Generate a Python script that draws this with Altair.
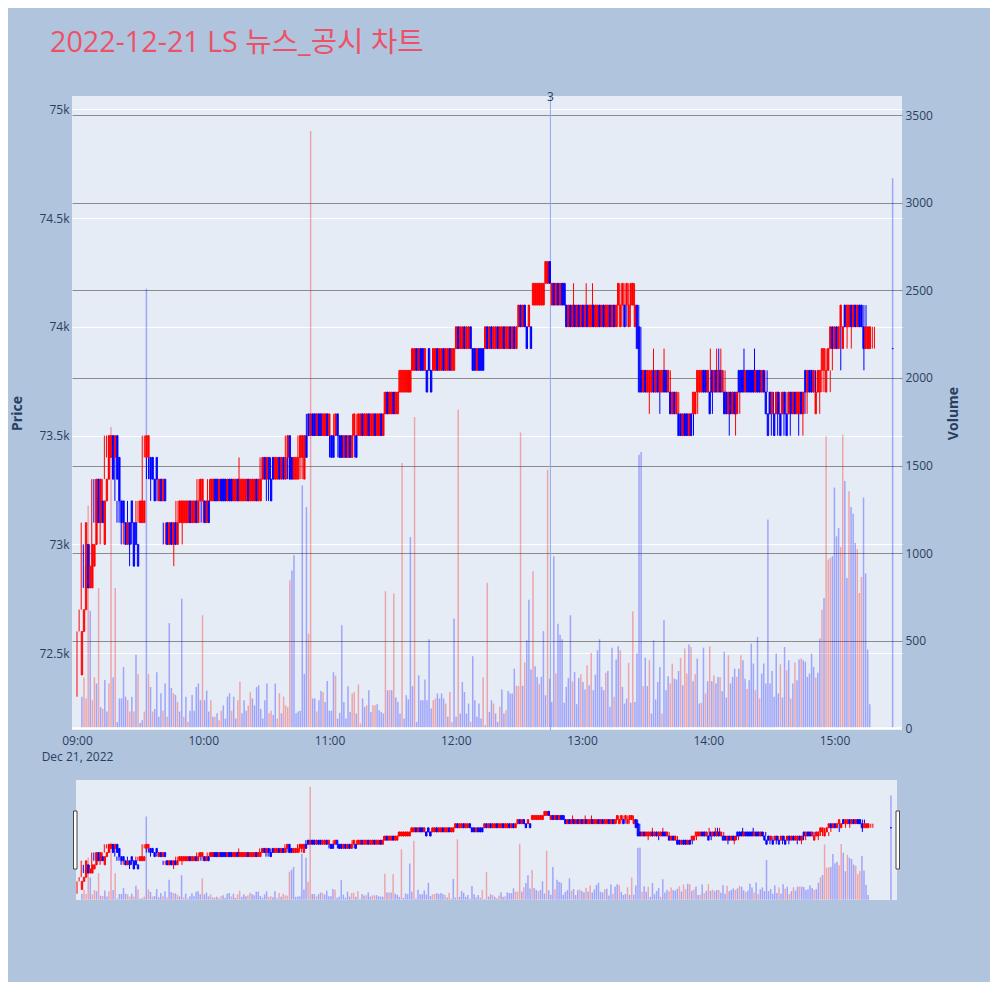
import altair as alt
import pandas as pd

# ---------------- text ----------------
TITLE = "2022-12-21 LS 뉴스_공시 차트"
DATE_LABEL = "Dec 21, 2022"
X_TICKS = [0, 60, 120, 180, 240, 300, 360]          # minutes after 09:00
X_LABELS = ["09:00", "10:00", "11:00", "12:00", "13:00", "14:00", "15:00"]
PRICE_TICKS = [72500, 73000, 73500, 74000, 74500, 75000]
VOLUME_TICKS = [0, 500, 1000, 1500, 2000, 2500, 3000, 3500]

# ---------------- 1-minute candles (steps of 100 won above 72,000) ----------------
BASE_PRICE = 72000
PRICE_STEP = 100

OPEN_09 = [4,6,7,10,8,8,9,10,13,11, 12,10,12,13,14,15,14,15,14,12, 12,11,10,11,12,11,11,10,11,11,
           11,14,14,14,14,13,14,12,13,12, 13,11,10,11,10,11,10,11,11,11, 11,11,12,11,11,12,11,12,12,12]
CLOSE_09 = [6,7,11,8,9,10,10,13,11,13, 11,12,13,15,15,13,15,13,12,11, 11,10,11,10,11,9,10,9,12,12,
            12,15,15,13,13,12,13,13,12,13, 12,10,11,10,11,10,11,12,12,12, 12,12,11,12,12,11,12,13,13,11]

OPEN_10 = [11,12,12,12,13,13,12,13,13,13, 12,13,13,12,12,13,12,12,12,12, 13,12,12,12,13,12,12,13,14,13,
           14,13,14,13,13,14,13,14,13,14, 15,14,13,13,13,14,14,13,15,16, 15,16,16,15,16,16,15,15,16,15]
CLOSE_10 = [12,11,13,13,12,12,13,12,12,12, 13,12,12,13,13,12,13,13,13,13, 12,13,13,13,12,13,13,14,13,14,
            13,12,13,14,14,13,14,13,14,15, 13,13,14,14,14,15,15,15,14,15, 16,15,15,16,15,15,16,16,15,16]

OPEN_11 = [15,15,15,16,15,15,14,15,14,15, 14,15,15,15,15,16,15,15,16,15, 15,16,15,15,16,15,16,17,16,16,
           17,16,16,17,17,17,17,17,17,18, 18,19,18,19,19,18,18,19,18,18, 18,19,18,18,19,18,18,19,18,18]
CLOSE_11 = [14,14,16,15,14,14,15,14,15,14, 15,16,14,16,16,15,16,16,15,16, 16,15,16,16,15,16,17,16,17,17,
            16,17,17,18,18,18,18,18,18,19, 19,18,19,18,18,19,17,18,17,19, 19,18,19,19,18,19,19,18,19,19]

OPEN_12 = [19,20,19,19,20,19,19,20,19,19, 18,19,19,19,19,20,19,20,19,19, 20,19,19,20,19,19,20,19,20,19,
           20,21,20,21,20,20,20,21,21,21, 21,21,21,22,22,23,21,22,21,22, 21,22,22,21,20,21,20,21,20,21]
CLOSE_12 = [20,19,20,20,19,20,20,19,18,18, 19,18,18,18,20,19,20,19,20,20, 19,20,20,19,20,20,19,20,19,20,
            21,20,21,20,19,21,19,22,22,22, 22,22,22,23,23,22,22,21,22,21, 22,21,21,20,21,20,21,20,21,20]

OPEN_13 = [20,21,20,21,20,20,21,20,20,21, 20,21,20,20,21,20,21,20,21,20, 21,21,21,20,21,21,20,21,20,18,
           17,18,17,17,17,18,17,18,17,17, 18,18,17,17,16,17,16,16,16,15, 16,16,15,16,16,16,17,17,17,18]
CLOSE_13 = [21,20,21,20,21,21,20,21,21,20, 21,20,21,21,20,21,20,21,22,21, 22,20,22,21,22,22,21,19,17,17,
            18,17,18,18,18,17,18,17,18,18, 17,17,18,16,17,16,17,15,15,16, 15,15,16,15,17,17,18,18,18,17]

OPEN_14 = [18,17,17,18,17,18,17,18,17,17, 17,16,17,16,17,16,18,18,18,17, 18,18,18,18,17,18,18,17,18,17,
           16,17,16,16,16,17,16,16,17,16, 16,17,16,17,16,16,17,16,18,17, 18,18,17,16,17,17,18,18,17,18]
CLOSE_14 = [17,18,16,17,18,17,18,17,18,16, 16,17,16,17,16,17,17,17,17,18, 17,17,17,17,18,17,17,18,17,16,
            15,16,17,15,17,16,15,17,16,15, 17,16,17,16,17,17,16,17,17,18, 17,17,18,17,18,18,19,19,18,19]

OPEN_15 = [19,20,19,20,19,20,19,21,20,20, 21,20,21,20,21,21,20,19,19,19]
CLOSE_15 = [20,19,20,19,20,21,20,20,21,21, 20,21,20,21,20,20,19,20,20,20]

# wicks beyond the body (minute index -> step)
HIGH_WICK = {77: 14, 236: 22, 242: 22, 245: 22, 257: 22, 274: 19, 279: 19, 301: 19,
             304: 19, 305: 19, 306: 19, 317: 19, 322: 19}
LOW_WICK = {0: 3, 31: 11, 46: 9, 50: 10, 90: 12, 92: 12, 106: 13, 272: 16, 277: 16,
            282: 16, 310: 15, 313: 15, 343: 15, 345: 15, 363: 18, 368: 19, 374: 18}

# ---------------- 1-minute volume (1 = red bar, 0 = blue bar) ----------------
VOL_09 = [180,290,170,1270,670,160,290,255,800,120, 110,275,95,255,1720,290,800,35,170,170,
          350,180,160,95,180,95,420,310,30,45, 95,2510,310,235,95,110,320,65,200,100,
          255,65,600,230,200,190,150,95,740,65, 180,35,100,190,100,235,255,160,645,160]
VC_09 = [0,1,1,1,0,1,1,0,1,0, 1,0,0,1,1,0,1,0,0,0, 0,0,1,1,0,1,0,1,0,0,
         1,0,1,0,1,0,0,0,0,1, 0,1,0,0,1,0,1,0,0,1, 0,1,0,0,0,0,0,0,1,0]
VOL_10 = [215,95,160,65,65,85,45,100,130,55, 180,200,100,180,55,160,265,85,160,100,
          130,205,170,130,235,245,110,55,160,255, 85,100,75,255,55,200,85,180,130,120,
          845,900,987,85,95,100,1387,310,1263,540, 3410,170,170,95,160,213,207,150,270,100]
VC_10 = [0,0,1,0,1,0,1,1,0,0, 0,0,1,0,0,1,1,0,0,0, 1,1,0,0,0,0,0,0,0,0,
         1,1,0,0,1,1,0,1,1,1, 1,0,0,0,0,0,0,0,0,1, 1,0,0,1,0,0,1,0,0,0]
VOL_11 = [100,320,300,55,88,588,150,55,240,93, 198,207,84,250,27,170,122,131,217,93,
          131,131,137,103,93,84,782,217,217,217, 769,175,150,84,1514,55,188,165,1092,240,
          1777,36,302,160,160,278,160,508,112,160, 170,198,170,198,170,141,65,207,36,626]
VC_11 = [0,0,1,0,0,0,0,0,0,0, 1,1,0,1,1,0,0,1,0,0, 1,1,0,0,0,0,1,0,1,0,
         1,0,0,0,1,0,0,0,0,0, 1,0,0,0,0,0,0,0,0,1, 1,0,0,0,0,1,0,1,1,0]
VOL_12 = [65,1819,84,264,207,84,141,36,411,160, 65,141,55,289,17,830,93,160,141,84,
          36,122,221,84,103,213,198,198,340,242, 242,1688,242,375,502,734,335,896,354,293,
          251,293,554,188,1476,283,150,982,312,597, 534,508,145,236,287,645,268,321,137,287]
VC_12 = [0,1,0,0,0,0,0,1,0,0, 0,0,0,1,0,1,0,0,1,0, 0,1,0,0,1,0,0,0,0,1,
         1,1,0,1,0,0,0,1,0,0, 1,0,0,0,1,0,0,0,1,0, 0,0,0,0,0,0,1,0,0,0]
VOL_13 = [308,264,221,360,245,430,217,306,445,508, 236,217,316,327,122,460,179,392,468,445,
          236,141,170,373,145,668,150,426,1562,1577, 240,403,240,388,84,502,164,264,350,84,
          616,217,297,255,369,283,278,327,401,245, 455,312,478,464,268,308,398,141,145,460]
VC_13 = [1,0,0,1,0,1,0,0,0,0, 0,0,1,0,0,0,1,0,0,1, 0,0,0,1,0,1,0,0,0,0,
         1,0,0,1,0,0,0,0,0,1, 0,0,0,1,1,0,0,0,1,0, 1,1,0,1,0,1,0,0,1,0]
VOL_14 = [198,268,468,268,302,255,293,293,211,436, 175,417,255,293,340,293,340,417,388,283,
          224,274,483,369,217,521,170,312,369,255, 1191,255,327,179,426,198,365,175,464,331,
          388,170,255,375,274,392,398,388,379,293, 312,426,350,289,316,512,677,744,1667,963]
VC_14 = [1,0,1,0,1,0,0,1,0,0, 0,1,0,0,0,1,0,1,0,0, 1,0,0,0,1,0,1,0,0,0,
         0,0,0,0,0,0,1,0,0,1, 0,1,0,1,0,0,1,0,0,0, 0,0,0,1,0,0,1,0,1,1]
VOL_15 = [972,982,1374,1096,1143,1035,1676,1412,858,1353, 1263,1225,1058,1022,772,864,1317,883,449,137]
VC_15 = [1,0,0,0,0,1,1,0,0,1, 0,0,0,1,1,1,0,0,0,0]

# closing single-price auction (15:30)
AUCTION_MINUTE = 390
AUCTION_PRICE = 73900
AUCTION_VOLUME = 3140

# news / disclosure marker
NEWS_MINUTE = [225]
NEWS_LABEL = ["3"]

# ---------------- tables ----------------
opens = OPEN_09 + OPEN_10 + OPEN_11 + OPEN_12 + OPEN_13 + OPEN_14 + OPEN_15
closes = CLOSE_09 + CLOSE_10 + CLOSE_11 + CLOSE_12 + CLOSE_13 + CLOSE_14 + CLOSE_15
vols = VOL_09 + VOL_10 + VOL_11 + VOL_12 + VOL_13 + VOL_14 + VOL_15
vcols = VC_09 + VC_10 + VC_11 + VC_12 + VC_13 + VC_14 + VC_15
assert len(opens) == len(closes) == len(vols) == len(vcols)

rows = []
for m, (o, c) in enumerate(zip(opens, closes)):
    hi = max(o, c, HIGH_WICK.get(m, o))
    lo = min(o, c, LOW_WICK.get(m, o))
    rows.append({
        "minute": m,
        "open": BASE_PRICE + PRICE_STEP * o,
        "close": BASE_PRICE + PRICE_STEP * c,
        "high": BASE_PRICE + PRICE_STEP * hi,
        "low": BASE_PRICE + PRICE_STEP * lo,
        "dir": "up" if c > o else "down",
    })
rows.append({"minute": AUCTION_MINUTE, "open": AUCTION_PRICE, "close": AUCTION_PRICE,
             "high": AUCTION_PRICE, "low": AUCTION_PRICE, "dir": "down"})
candles = pd.DataFrame(rows)

volume = pd.DataFrame({
    "minute": list(range(len(vols))) + [AUCTION_MINUTE],
    "volume": vols + [AUCTION_VOLUME],
    "dir": ["up" if v else "down" for v in vcols] + ["down"],
})
news = pd.DataFrame({"minute": NEWS_MINUTE, "label": NEWS_LABEL})
zero = pd.DataFrame({"v": [0]})
one = pd.DataFrame({"k": [0]})

# ---------------- geometry ----------------
W = 830          # plot width
MAIN_H = 634     # main panel height
GAP_END = 684    # slider top
TOTAL_H = 804    # slider bottom
PLOT_BG = "#E5ECF6"
PAGE_BG = "#B0C4DE"
TXT = "#2a3f5f"
FONT = "Open Sans"

X_MAIN = alt.Scale(domain=[-2.38, 392.1], range=[0, W], nice=False, zero=False)
X_SLIDER = alt.Scale(domain=[-0.48, 390.5], range=[4, W - 5], nice=False, zero=False)
P_MAIN = alt.Scale(domain=[72147, 75061], range=[MAIN_H, 0], nice=False, zero=False)
V_MAIN = alt.Scale(domain=[-10.3, 3610], range=[MAIN_H, 0], nice=False, zero=False)
P_SLIDER = alt.Scale(domain=[72147, 75061], range=[TOTAL_H, GAP_END], nice=False, zero=False)
V_SLIDER = alt.Scale(domain=[-10.3, 3610], range=[TOTAL_H, GAP_END], nice=False, zero=False)
COLOR = alt.Scale(domain=["up", "down"], range=["#FF0000", "#0000FF"])

parts = []
for v, lab in zip(X_TICKS, X_LABELS):
    if v == X_TICKS[0]:
        parts.append(f"datum.value == {v} ? ['{lab}', '{DATE_LABEL}']")
    else:
        parts.append(f"datum.value == {v} ? '{lab}'")
label_expr = " : ".join(parts) + " : ''"

x_axis = alt.Axis(values=X_TICKS, labelExpr=label_expr, grid=False, domain=False, ticks=False,
                  offset=-(TOTAL_H - MAIN_H), labelPadding=5, labelLineHeight=16, labelFlush=False,
                  zindex=1, title=None, labelColor=TXT, labelFontSize=12, labelFont=FONT)
price_axis = alt.Axis(orient="left", values=PRICE_TICKS, format="~s", grid=True, gridColor="white",
                      gridWidth=1, domain=False, ticks=False, labelPadding=3, labelColor=TXT,
                      labelFontSize=12, labelFont=FONT, title="Price", titleX=-55, titleY=MAIN_H / 2,
                      titleAngle=270, titleAlign="center", titleBaseline="middle",
                      titleFontWeight="bold", titleFontSize=14, titleColor=TXT, titleFont=FONT)
vol_axis = alt.Axis(orient="right", values=VOLUME_TICKS, format="d", grid=True, gridColor="#8c8c8c",
                    gridWidth=1, domain=False, ticks=False, labelPadding=3, labelColor=TXT,
                    labelFontSize=12, labelFont=FONT, title="Volume", titleX=51, titleY=MAIN_H / 2,
                    titleAngle=270, titleAlign="center", titleBaseline="middle",
                    titleFontWeight="bold", titleFontSize=14, titleColor=TXT, titleFont=FONT)

# ---------------- main panel ----------------
vol_main = alt.Chart(volume).mark_bar(width=1.5, opacity=0.3).encode(
    x=alt.X("minute:Q", scale=X_MAIN, axis=None),
    y=alt.Y("volume:Q", scale=V_MAIN, axis=vol_axis),
    y2=alt.datum(0),
    color=alt.Color("dir:N", scale=COLOR, legend=None),
)
zero_line = alt.Chart(zero).mark_rule(color="white", strokeWidth=2).encode(
    y=alt.Y("v:Q", scale=V_MAIN, axis=None), x=alt.value(0), x2=alt.value(W)
)
news_rule = alt.Chart(news).mark_rule(color="#8fa8f5", strokeWidth=1).encode(
    x=alt.X("minute:Q", scale=X_MAIN, axis=None), y=alt.value(0), y2=alt.value(MAIN_H)
)
news_text = alt.Chart(news).mark_text(fontSize=12, color=TXT, baseline="middle", font=FONT).encode(
    x=alt.X("minute:Q", scale=X_MAIN, axis=None), y=alt.value(1), text="label:N"
)
wick_main = alt.Chart(candles).mark_rule(strokeWidth=1).encode(
    x=alt.X("minute:Q", scale=X_MAIN, axis=x_axis),
    y=alt.Y("low:Q", scale=P_MAIN, axis=price_axis),
    y2="high:Q",
    color=alt.Color("dir:N", scale=COLOR, legend=None),
)
body_main = alt.Chart(candles).mark_bar(width=1.4, strokeWidth=0.9).encode(
    x=alt.X("minute:Q", scale=X_MAIN, axis=None),
    y=alt.Y("open:Q", scale=P_MAIN, axis=None),
    y2="close:Q",
    color=alt.Color("dir:N", scale=COLOR, legend=None),
    stroke=alt.Stroke("dir:N", scale=COLOR, legend=None),
)

# ---------------- range slider ----------------
gap = alt.Chart(one).mark_rect(color=PAGE_BG).encode(
    x=alt.value(0), x2=alt.value(W), y=alt.value(MAIN_H), y2=alt.value(GAP_END))
side_l = alt.Chart(one).mark_rect(color=PAGE_BG).encode(
    x=alt.value(0), x2=alt.value(4), y=alt.value(GAP_END), y2=alt.value(TOTAL_H))
side_r = alt.Chart(one).mark_rect(color=PAGE_BG).encode(
    x=alt.value(W - 5), x2=alt.value(W), y=alt.value(GAP_END), y2=alt.value(TOTAL_H))

vol_sl = alt.Chart(volume).mark_bar(width=1.5, opacity=0.3).encode(
    x=alt.X("minute:Q", scale=X_SLIDER, axis=None),
    y=alt.Y("volume:Q", scale=V_SLIDER, axis=None),
    y2=alt.datum(0),
    color=alt.Color("dir:N", scale=COLOR, legend=None),
)
wick_sl = alt.Chart(candles).mark_rule(strokeWidth=1).encode(
    x=alt.X("minute:Q", scale=X_SLIDER, axis=None),
    y=alt.Y("low:Q", scale=P_SLIDER, axis=None),
    y2="high:Q",
    color=alt.Color("dir:N", scale=COLOR, legend=None),
)
body_sl = alt.Chart(candles).mark_bar(width=1.4, strokeWidth=0.9).encode(
    x=alt.X("minute:Q", scale=X_SLIDER, axis=None),
    y=alt.Y("open:Q", scale=P_SLIDER, axis=None),
    y2="close:Q",
    color=alt.Color("dir:N", scale=COLOR, legend=None),
    stroke=alt.Stroke("dir:N", scale=COLOR, legend=None),
)
handle_l = alt.Chart(one).mark_rect(fill="white", stroke="#444444", strokeWidth=1).encode(
    x=alt.value(1.5), x2=alt.value(5), y=alt.value(GAP_END + 31), y2=alt.value(GAP_END + 89))
handle_r = alt.Chart(one).mark_rect(fill="white", stroke="#444444", strokeWidth=1).encode(
    x=alt.value(W - 6), x2=alt.value(W - 2.5), y=alt.value(GAP_END + 31), y2=alt.value(GAP_END + 89))

chart = alt.layer(
    vol_main, zero_line, news_rule, news_text, wick_main, body_main,
    gap, side_l, side_r, vol_sl, wick_sl, body_sl, handle_l, handle_r,
).resolve_scale(
    x="independent", y="independent"
).properties(
    width=W, height=TOTAL_H,
    title=alt.TitleParams(TITLE, anchor="start", frame="group", dx=-22, offset=33,
                          fontSize=28.7, fontWeight="normal", color="#ED5167",
                          font="Open Sans, Noto Sans CJK KR"),
    autosize=alt.AutoSizeParams(type="none"),
    padding={"left": 64, "top": 88, "right": 88, "bottom": 82},
    background=PAGE_BG,
).configure_view(fill=PLOT_BG, stroke=None)

chart.save("out.html", embed_options={"renderer": "svg", "actions": False})
